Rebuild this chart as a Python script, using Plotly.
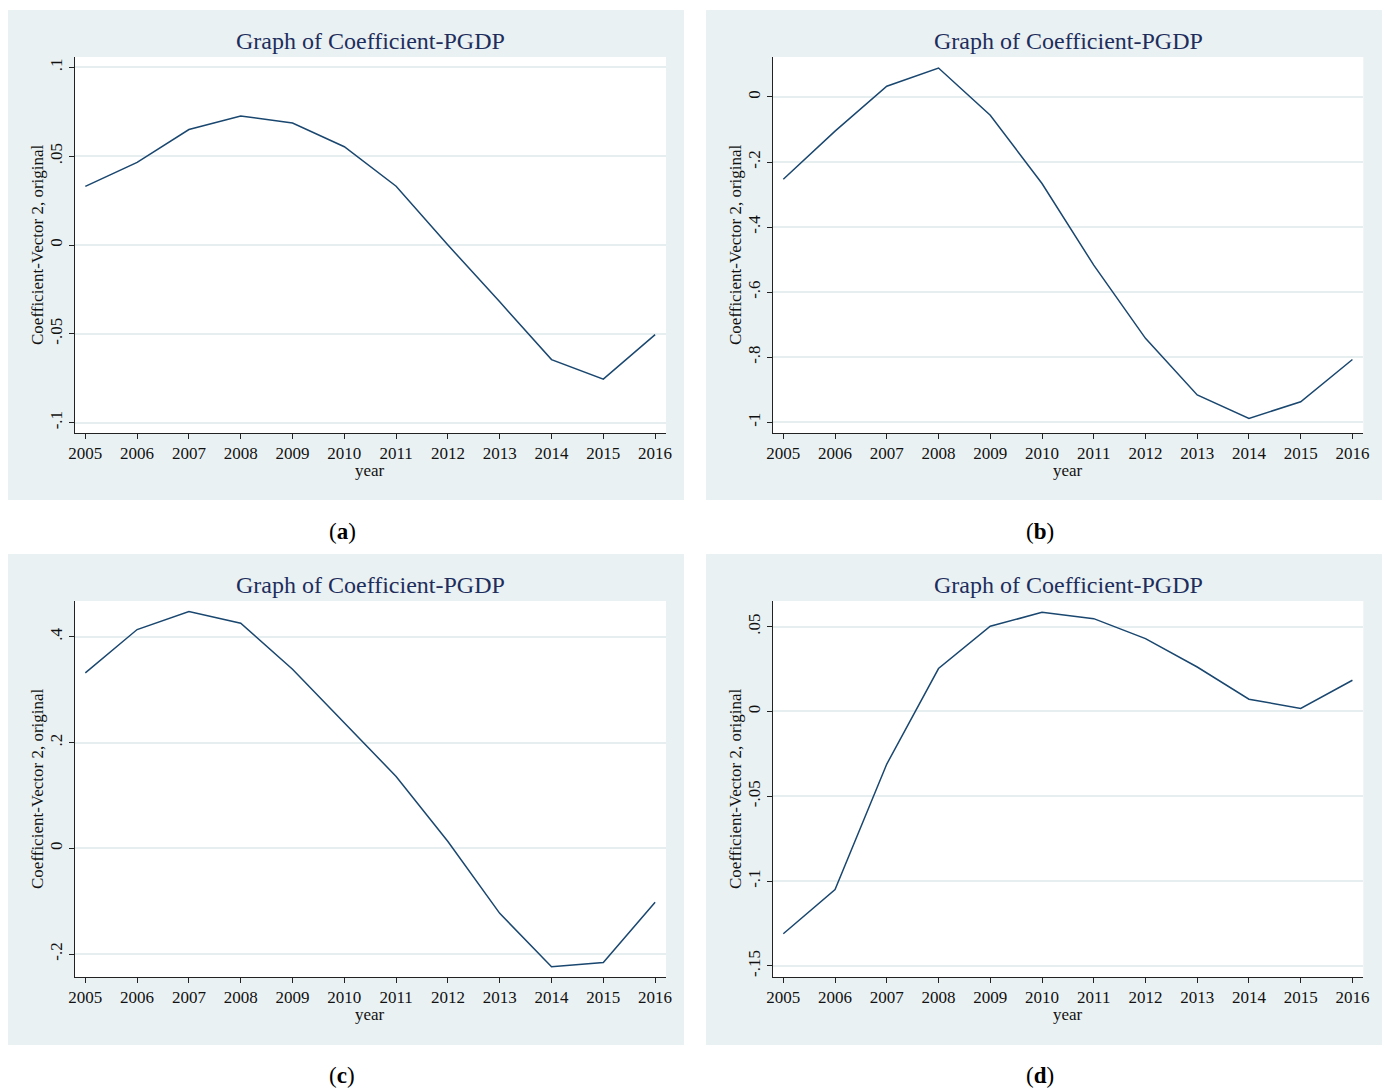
import plotly.graph_objects as go

# ---- data ----
years = [2005, 2006, 2007, 2008, 2009, 2010, 2011, 2012, 2013, 2014, 2015, 2016]
coef_a = [0.033, 0.0465, 0.065, 0.0726, 0.0686, 0.0553, 0.0331, 0.0000, -0.032, -0.0645, -0.0755, -0.0504]
coef_b = [-0.253, -0.105, 0.033, 0.089, -0.056, -0.266, -0.517, -0.742, -0.916, -0.988, -0.937, -0.807]
coef_c = [0.332, 0.414, 0.448, 0.426, 0.339, 0.237, 0.136, 0.013, -0.123, -0.224, -0.216, -0.102]
coef_d = [-0.131, -0.105, -0.031, 0.0253, 0.0502, 0.0584, 0.0547, 0.0429, 0.0262, 0.0072, 0.0018, 0.0184]

ticks_a = [-0.1, -0.05, 0, 0.05, 0.1]
labels_a = ["-.1", "-.05", "0", ".05", ".1"]
ticks_b = [-1, -0.8, -0.6, -0.4, -0.2, 0]
labels_b = ["-1", "-.8", "-.6", "-.4", "-.2", "0"]
ticks_c = [-0.2, 0, 0.2, 0.4]
labels_c = ["-.2", "0", ".2", ".4"]
ticks_d = [-0.15, -0.1, -0.05, 0, 0.05]
labels_d = ["-.15", "-.1", "-.05", "0", ".05"]

title_text = "Graph of Coefficient-PGDP"
ytitle_text = "Coefficient-Vector 2, original"
xtitle_text = "year"
panel_labels = ["(<b>a</b>)", "(<b>b</b>)", "(<b>c</b>)", "(<b>d</b>)"]

# ---- layout geometry (pixels) ----
W, H = 1387, 1088
SERIF = "Liberation Serif, Times New Roman, serif"
LINE_COLOR = "#1A476F"
TITLE_COLOR = "#1E2E5C"
BG_COLOR = "#EAF1F3"
GRID_COLOR = "#E6EEF0"

panels = [
    dict(series=coef_a, tv=ticks_a, tt=labels_a, yr=[-0.1058, 0.1058],
         bg=(8, 10, 684, 500), plot=(74.7, 57, 666, 433), lab=(342, 531)),
    dict(series=coef_b, tv=ticks_b, tt=labels_b, yr=[-1.033, 0.1229],
         bg=(706, 10, 1382, 500), plot=(772.7, 57, 1363.3, 433), lab=(1040, 531)),
    dict(series=coef_c, tv=ticks_c, tt=labels_c, yr=[-0.2435, 0.468],
         bg=(8, 554, 684, 1045), plot=(74.7, 601, 666, 977), lab=(342, 1075)),
    dict(series=coef_d, tv=ticks_d, tt=labels_d, yr=[-0.1565, 0.0651],
         bg=(706, 554, 1382, 1045), plot=(772.7, 601, 1363.3, 977), lab=(1040, 1075)),
]

def px(x):
    return x / W

def py(y):
    return 1 - y / H

fig = go.Figure()
shapes = []
annotations = []
layout_axes = {}

for i, p in enumerate(panels):
    n = i + 1
    xa = "xaxis" if n == 1 else f"xaxis{n}"
    ya = "yaxis" if n == 1 else f"yaxis{n}"
    xref = "x" if n == 1 else f"x{n}"
    yref = "y" if n == 1 else f"y{n}"
    x0, y0, x1, y1 = p["plot"]
    bx0, by0, bx1, by1 = p["bg"]

    fig.add_trace(go.Scatter(x=years, y=p["series"], mode="lines",
                             line=dict(color=LINE_COLOR, width=1.5),
                             xaxis=xref, yaxis=yref, showlegend=False,
                             hoverinfo="x+y"))

    layout_axes[xa] = dict(
        domain=[px(x0), px(x1)], anchor=yref, range=[2004.795, 2016.21],
        automargin=False,
        tickmode="array", tickvals=years, ticktext=[str(y) for y in years],
        showgrid=False, zeroline=False, showline=True, linecolor="#222222",
        linewidth=1, ticks="outside", ticklen=5, tickcolor="#222222",
        tickfont=dict(family=SERIF, size=17, color="#111111"),
    )
    layout_axes[ya] = dict(
        domain=[py(y1), py(y0)], anchor=xref, range=p["yr"],
        automargin=False,
        tickmode="array", tickvals=p["tv"], ticktext=p["tt"], tickangle=-90,
        showgrid=True, gridcolor=GRID_COLOR, gridwidth=1.5, zeroline=False,
        showline=True, linecolor="#222222", linewidth=1,
        ticks="outside", ticklen=5, tickcolor="#222222",
        tickfont=dict(family=SERIF, size=17, color="#111111"),
    )

    shapes.append(dict(type="rect", xref="paper", yref="paper",
                       x0=px(bx0), x1=px(bx1), y0=py(by1), y1=py(by0),
                       fillcolor=BG_COLOR, line=dict(width=0), layer="below"))
    shapes.append(dict(type="rect", xref="paper", yref="paper",
                       x0=px(x0), x1=px(x1), y0=py(y1), y1=py(y0),
                       fillcolor="white", line=dict(width=0), layer="below"))

    cx = (x0 + x1) / 2
    annotations.append(dict(text=title_text, x=px(cx), y=py(by0 + 31),
                            xref="paper", yref="paper", showarrow=False,
                            xanchor="center", yanchor="middle",
                            font=dict(family=SERIF, size=24, color=TITLE_COLOR)))
    annotations.append(dict(text=ytitle_text, x=px(bx0 + 29), y=py((y0 + y1) / 2),
                            xref="paper", yref="paper", showarrow=False,
                            textangle=-90, xanchor="center", yanchor="middle",
                            font=dict(family=SERIF, size=17, color="#111111")))
    annotations.append(dict(text=xtitle_text, x=px(cx), y=py(y1 + 37),
                            xref="paper", yref="paper", showarrow=False,
                            xanchor="center", yanchor="middle",
                            font=dict(family=SERIF, size=17, color="#111111")))
    annotations.append(dict(text=panel_labels[i], x=px(p["lab"][0]), y=py(p["lab"][1]),
                            xref="paper", yref="paper", showarrow=False,
                            xanchor="center", yanchor="middle",
                            font=dict(family=SERIF, size=23, color="#000000")))

fig.update_layout(
    width=W, height=H, margin=dict(l=0, r=0, t=0, b=0, autoexpand=False),
    paper_bgcolor="white", plot_bgcolor="white",
    shapes=shapes, annotations=annotations, showlegend=False,
    **layout_axes,
)

fig.write_html(
    "out.html",
    config={"responsive": False, "displayModeBar": False},
    post_script="document.body.style.margin='0';document.body.style.overflow='hidden';",
)
